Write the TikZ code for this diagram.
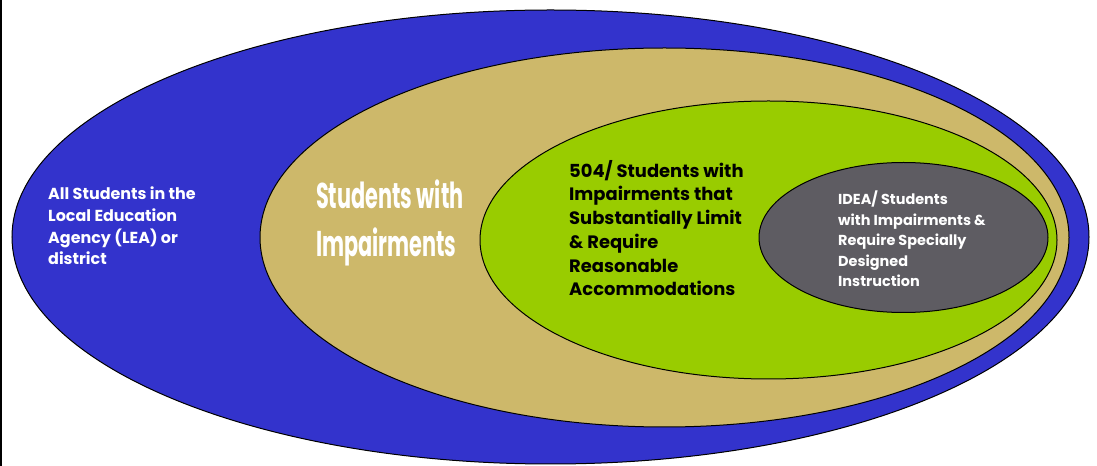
\documentclass[tikz,border=0pt]{standalone}
\usepackage{fontspec}
\setsansfont{Poppins}
\newfontfamily\narrowfont[FakeStretch=0.58]{Poppins}
\definecolor{leablue}{HTML}{3333CC}
\definecolor{imptan}{HTML}{CDB86A}
\definecolor{limitgreen}{HTML}{99CC00}
\definecolor{ideagrey}{HTML}{5E5C62}
\begin{document}
\begin{tikzpicture}[x=1bp,y=-1bp,
    ring/.style={draw=black,line width=1bp},
    txt/.style={align=left,anchor=west,inner sep=0pt}]
  \useasboundingbox (0,0) rectangle (1097,466);
  \draw[line width=2.5bp] (1,0) -- (1,466);
  % nested sets
  \draw[ring,fill=leablue] (550.5,237) ellipse (538.5 and 227);
  \draw[ring,fill=imptan] (664.5,237.5) ellipse (404.5 and 189.5);
  \draw[ring,fill=limitgreen] (768.5,240) ellipse (288.5 and 139);
  \draw[ring,fill=ideagrey] (903.5,237.5) ellipse (144.5 and 75);
  % labels
  \node[txt,text=white,font=\sffamily\bfseries\fontsize{16}{21.7}\selectfont] (lea) at (48,226)
    {All Students in the\\Local Education\\Agency (LEA) or\\district};
  \node[txt,text=white,font=\narrowfont\bfseries\fontsize{36}{48}\selectfont] (imp) at (316,223)
    {Students with\\Impairments};
  \node[txt,text=black,font=\sffamily\bfseries\fontsize{18}{23.8}\selectfont] (sec504) at (569,228)
    {504/ Students with\\Impairments that\\Substantially Limit\\\& Require\\Reasonable\\Accommodations};
  \node[txt,text=white,font=\sffamily\bfseries\fontsize{14.5}{20.5}\selectfont] (idea) at (838,239)
    {IDEA/ Students\\with Impairments \&\\Require Specially\\Designed\\Instruction};
\end{tikzpicture}
\end{document}
